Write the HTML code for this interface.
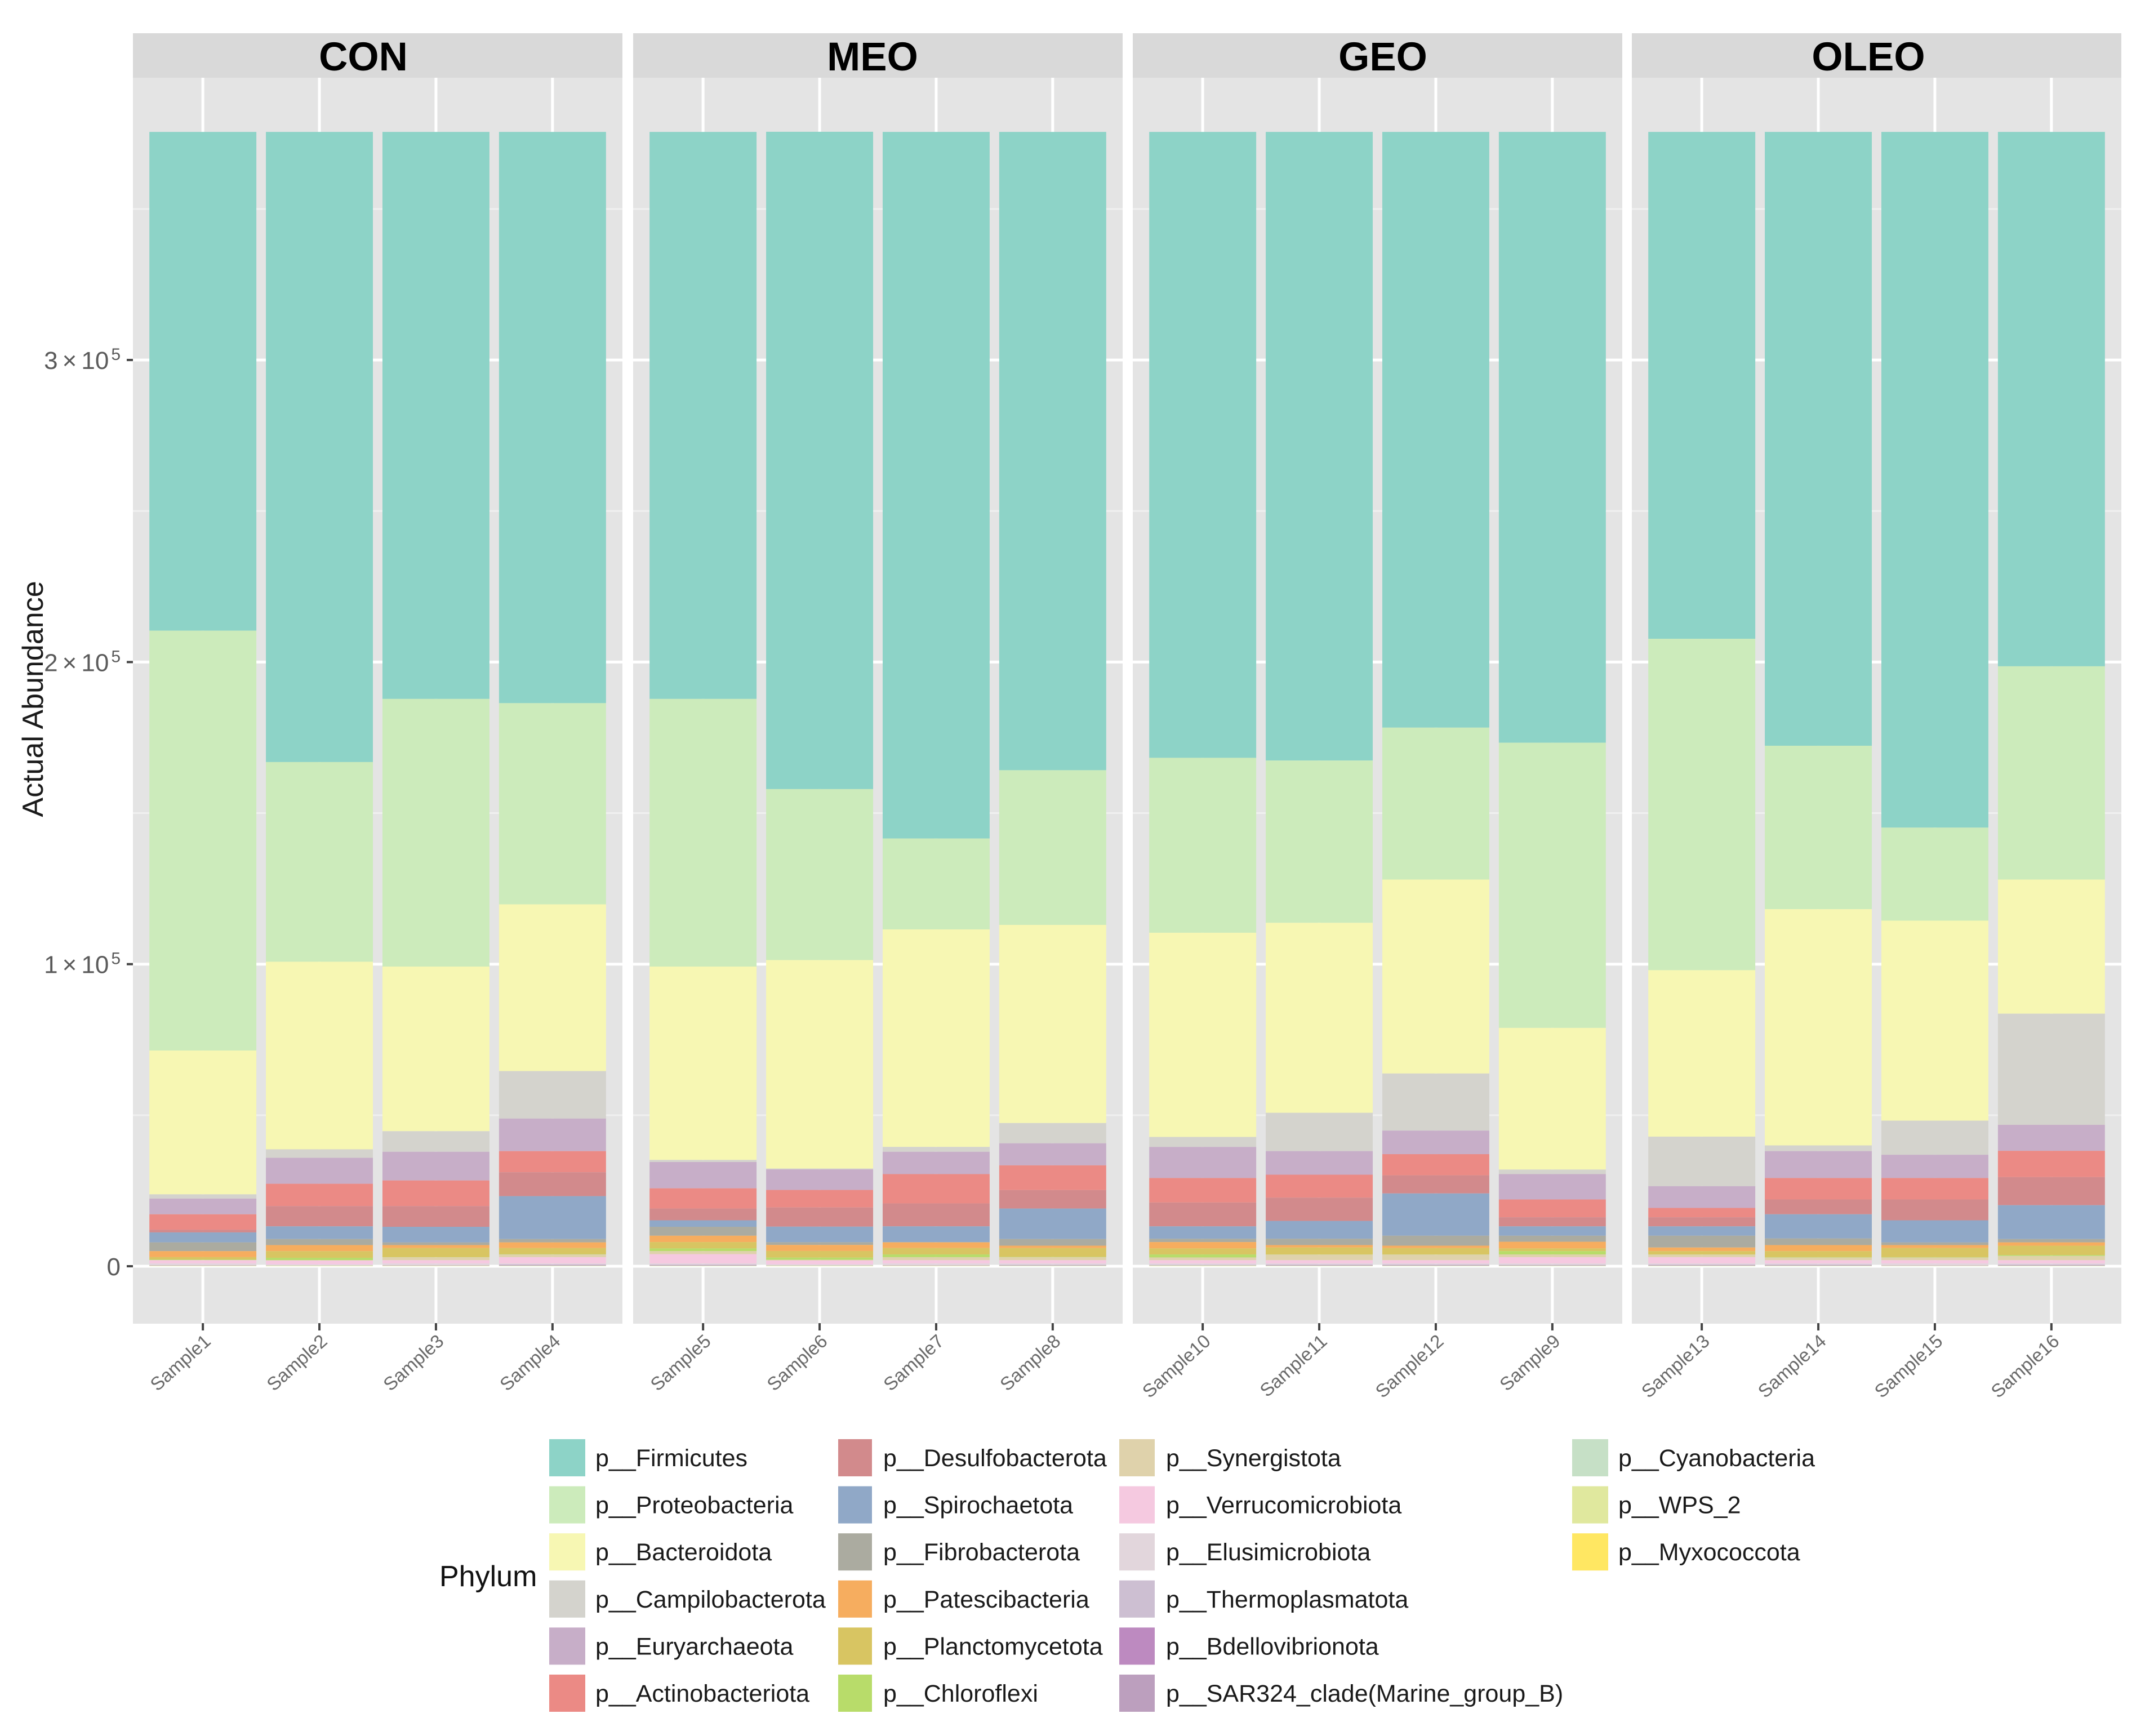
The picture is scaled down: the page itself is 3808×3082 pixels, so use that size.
<!DOCTYPE html>
<html>
<head>
<meta charset="utf-8">
<title>Actual Abundance by Phylum</title>
<style>
html,body{margin:0;padding:0;background:#fff;}
svg{display:block;font-family:"Liberation Sans",sans-serif;}
</style>
</head>
<body>
<svg id="chart" xmlns="http://www.w3.org/2000/svg" width="3808" height="3082" viewBox="0 0 3808 3082"></svg>
<script>
const facets = ['CON', 'MEO', 'GEO', 'OLEO'];
const samples = ['Sample1','Sample2','Sample3','Sample4','Sample5','Sample6','Sample7','Sample8','Sample10','Sample11','Sample12','Sample9','Sample13','Sample14','Sample15','Sample16'];
const phyla = ['p__Firmicutes','p__Proteobacteria','p__Bacteroidota','p__Campilobacterota','p__Euryarchaeota','p__Actinobacteriota','p__Desulfobacterota','p__Spirochaetota','p__Fibrobacterota','p__Patescibacteria','p__Planctomycetota','p__Chloroflexi','p__Synergistota','p__Verrucomicrobiota','p__Elusimicrobiota','p__Thermoplasmatota','p__Bdellovibrionota','p__SAR324_clade(Marine_group_B)','p__Cyanobacteria','p__WPS_2','p__Myxococcota'];
const colours = ['#8dd3c7','#ccebbb','#f7f7b3','#d4d3cd','#c7aec8','#eb8a85','#d28a8c','#90a8c7','#ababa0','#f6ad5f','#d8c562','#b8dc6a','#dfd2ab','#f5c9e0','#e2d6dc','#cdbfd2','#bd8ac0','#bc9fbe','#c6e0c6','#e0e89e','#ffe762'];

const firmicutes = [165100,208600,187700,189100,187700,217600,233900,211300,207200,208100,197200,202200,167800,203200,230300,176900];
const proteobacteria = [139000,66100,88600,66600,88600,56600,30100,51200,57900,53700,50300,94400,109700,54100,30800,70600];
const bacteroidota = [47600,62100,54500,55200,64000,69000,72000,65600,67600,62900,64200,46900,55100,78200,66200,44400];
const campilobacterota = [1400,2800,6800,15700,700,300,1600,6700,3300,12700,18900,1500,16400,1900,11300,36800];
const euryarchaeota = [5200,8600,9500,10800,8700,6800,7400,7300,10300,7800,7800,8400,7200,8900,7700,8600];
const actinobacteriota = [5100,7400,8500,7000,6700,5800,9700,8200,8100,7600,7000,5900,3100,7100,7100,8700];
const desulfobacterota = [900,6700,6850,7900,3900,6350,7600,6100,7900,7700,6000,3000,3000,4900,6900,9300];
const spirochaetota = [3300,4200,5150,14200,2150,5150,5200,10100,4100,5900,14000,3100,3100,8000,7300,11200];
const fibrobacterota = [2900,2000,900,1100,2950,900,100,2200,1100,2100,3300,2000,3900,2200,900,1100];
const patescibacteria = [2000,2000,1000,1900,2100,2000,1900,800,2100,800,800,2200,1200,2000,1000,1100];
const planctomycetota = [800,2200,3000,2000,2100,2200,2100,2900,2000,2300,2100,900,1100,2000,3000,3100];
const chloroflexi = [150,800,50,100,900,750,900,100,1000,50,50,1100,50,100,100,300];
const synergistota = [50,100,950,900,1000,150,1000,1000,900,1850,1850,900,850,900,900,1400];
const verrucomicrobiota = [1100,1300,1100,2100,3100,1300,1100,1100,1100,1100,1100,2100,2100,1100,1100,1100];
const elusimicrobiota = [500,300,500,300,300,300,500,400,400,300,300,400,300,300,600,300];
const thermoplasmatota = [100,50,100,150,200,100,100,150,100,200,200,150,200,200,50,200];
const bdellovibrionota = [50,20,50,100,100,20,50,50,50,100,100,50,100,100,50,100];
const sar324 = [50,20,50,150,100,20,50,100,100,100,100,100,100,100,50,100];
const cyanobacteria = [50,50,50,100,100,50,50,100,100,100,100,100,100,100,50,100];
const wps2 = [130,150,130,80,80,150,130,80,130,80,80,80,80,80,80,80];
const myxococcota = [20,10,20,20,20,10,20,20,20,20,20,20,20,20,20,20];

const seriesValues = [firmicutes,proteobacteria,bacteroidota,campilobacterota,euryarchaeota,actinobacteriota,desulfobacterota,spirochaetota,fibrobacterota,patescibacteria,planctomycetota,chloroflexi,synergistota,verrucomicrobiota,elusimicrobiota,thermoplasmatota,bdellovibrionota,sar324,cyanobacteria,wps2,myxococcota];

const yMajorTicks = [0, 100000, 200000, 300000];
const yMinorTicks = [50000, 150000, 250000, 350000];
const yTickMantissas = ['0', '1', '2', '3'];

/* layout */
const NS = 'http://www.w3.org/2000/svg';
const svg = document.getElementById('chart');
const panelLeft = [236, 1124, 2011, 2897];
const panelW = 869, panelTop = 138, panelBottom = 2350;
const stripTop = 59;
const stripLabelX = [645, 1549, 2455, 3317];
const Y0 = 2248, PX_PER_UNIT = 536.3 / 100000;
const perPanel = 4;
const bandUnit = panelW / 4.2;
const barW = bandUnit * 0.918;

function yScale(v) { return Y0 - v * PX_PER_UNIT; }
function xScale(sampleIndex) {
  const p = Math.floor(sampleIndex / perPanel);
  const i = sampleIndex % perPanel;
  return panelLeft[p] + (i + 0.6) * bandUnit;
}
function mk(tag, geom, parent) {
  const el = document.createElementNS(NS, tag);
  for (const k in geom) el.setAttribute(k, geom[k]);
  (parent || svg).appendChild(el);
  return el;
}

/* panels, strips, gridlines */
facets.forEach(function (facet, p) {
  const left = panelLeft[p];
  const strip = mk('rect', {x: left, y: stripTop, width: panelW, height: panelTop - stripTop, fill: '#d9d9d9'});
  
  

  const panel = mk('rect', {x: left, y: panelTop, width: panelW, height: panelBottom - panelTop, fill: '#e4e4e4'});
  
  

  yMinorTicks.forEach(function (v) {
    const g = mk('line', {x1: left, x2: left + panelW, y1: yScale(v), y2: yScale(v), stroke: '#f0f0f0', 'stroke-width': 3});
    
    
  });
  yMajorTicks.forEach(function (v) {
    const g = mk('line', {x1: left, x2: left + panelW, y1: yScale(v), y2: yScale(v), stroke: '#ffffff', 'stroke-width': 5});
    
    
  });

  const label = mk('text', {x: stripLabelX[p], y: 125, 'text-anchor': 'middle', 'font-size': 71, 'font-weight': 'bold', fill: '#000'});
  label.textContent = facet;
  
  
});

/* per-sample: vertical grid, stacked segments, ticks, labels */
samples.forEach(function (name, s) {
  const cx = xScale(s);
  const vg = mk('line', {x1: cx, x2: cx, y1: panelTop, y2: panelBottom, stroke: '#ffffff', 'stroke-width': 5});
  
  

  const tick = mk('line', {x1: cx, x2: cx, y1: panelBottom - 1, y2: panelBottom + 12, stroke: '#444', 'stroke-width': 4});
  
  

  let total = 0;
  seriesValues.forEach(function (vals) { total += vals[s]; });
  let top = total;
  seriesValues.forEach(function (vals, k) {
    const bottom = top - vals[s];
    const seg = mk('rect', {x: cx - barW / 2, y: yScale(top), width: barW, height: Math.max(0, yScale(bottom) - yScale(top)), fill: colours[k]});
    
    
    top = bottom;
  });

  const lx = cx + 16, ly = 2384;
  const t = mk('text', {x: lx, y: ly, 'text-anchor': 'end', 'font-size': 33, fill: '#6a6a6a', transform: 'rotate(-42 ' + lx + ' ' + ly + ')'});
  t.textContent = name;
  
  
});

/* y axis */
yMajorTicks.forEach(function (v, i) {
  const y = yScale(v);
  const tk = mk('line', {x1: 225, x2: 236, y1: y, y2: y, stroke: '#444', 'stroke-width': 4});
  
  

  const t = mk('text', {x: 214, y: y + 16, 'text-anchor': 'end', 'font-size': 44, fill: '#5a5a5a'});
  
  
  if (v === 0) {
    t.textContent = yTickMantissas[i];
  } else {
    const a = mk('tspan', {}, t);
    a.textContent = yTickMantissas[i];
    const x = mk('tspan', {dx: 8}, t);
    x.textContent = '\u00D7';
    const d = mk('tspan', {dx: 8}, t);
    d.textContent = '10';
    const b = mk('tspan', {'font-size': 30, dx: 4, dy: -16}, t);
    b.textContent = '5';
  }
});

const yTitle = mk('text', {x: 58, y: 1241, 'text-anchor': 'middle', 'font-size': 52, fill: '#1a1a1a', transform: 'rotate(-90 58 1241)', dy: '0.35em'});
yTitle.textContent = 'Actual Abundance';



/* legend */
const legendTitle = mk('text', {x: 780, y: 2816, 'font-size': 52, fill: '#111'});
legendTitle.textContent = 'Phylum';



const legendSwatchX = [975, 1488, 1987, 2791];
const legendTextX = [1057, 1568, 2070, 2873];
const legendSwatchW = [64, 60, 63, 64];
phyla.forEach(function (name, k) {
  const col = Math.floor(k / 6), row = k % 6;
  const cy = 2588 + row * 83.6;
  const sw = mk('rect', {x: legendSwatchX[col], y: cy - 33, width: legendSwatchW[col], height: 66, fill: colours[k]});
  
  
  const t = mk('text', {x: legendTextX[col], y: cy + 15, 'font-size': 43, fill: '#1a1a1a'});
  t.textContent = name;
  
  
});
</script>
</body>
</html>
